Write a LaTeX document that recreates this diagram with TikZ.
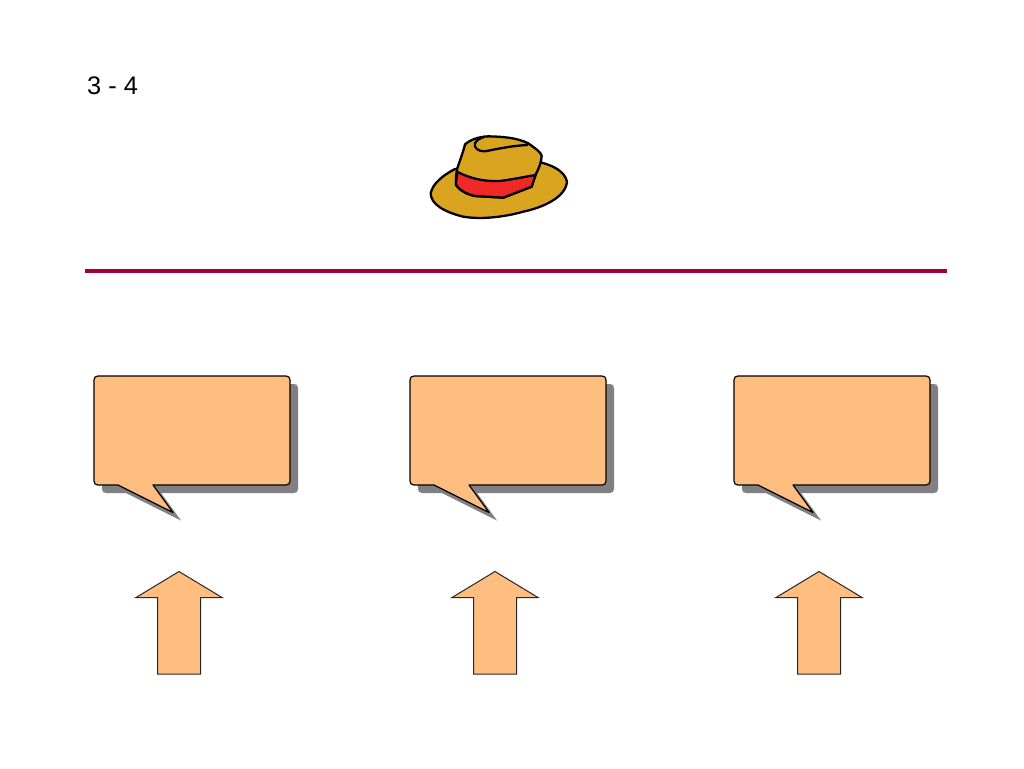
\documentclass[tikz,border=0pt]{standalone}
\usepackage{fontspec}
\setmainfont{Liberation Sans}
\definecolor{peach}{HTML}{FFBE80}
\definecolor{shade}{HTML}{808080}
\definecolor{rulered}{HTML}{A50034}
\definecolor{straw}{HTML}{D9A520}
\definecolor{bandred}{HTML}{F02828}
\tikzset{
  bubble/.style={fill=peach,draw=black,line width=1.2pt,line join=round},
  bubbleshade/.style={fill=shade,draw=none},
  uparrow/.style={fill=peach,draw=black!85,line width=1pt,line join=miter},
  hatline/.style={draw=black,line width=2.3pt,line join=round,line cap=round},
  hatscale/.style={shift={(420,125)},x=0.3333pt,y=-0.3333pt}
}
\newcommand{\bubblepath}{(98,376) -- (286,376) .. controls (288.5,376) and (290,377.5) .. (290,380) -- (290,481) .. controls (290,483.5) and (288.5,485) .. (286,485) -- (153,485) -- (173,512.5) -- (118,485) -- (98,485) .. controls (95.5,485) and (94,483.5) .. (94,481) -- (94,380) .. controls (94,377.5) and (95.5,376) .. (98,376) -- cycle}
\newcommand{\callout}[1]{%
  \begin{scope}[shift={(#1,0)}]
    \fill[bubbleshade,shift={(8,8)}] \bubblepath;
    \path[bubble] \bubblepath;
    \path[uparrow] (179,571.5) -- (222,597.5) -- (200.5,597.5) -- (200.5,674) -- (157.5,674) -- (157.5,597.5) -- (136,597.5) -- cycle;
  \end{scope}}
\begin{document}
\begin{tikzpicture}[x=1pt,y=-1pt]
\useasboundingbox (0,0) rectangle (1024,768);
\fill[white] (0,0) rectangle (1024,768);
\node[anchor=base west,inner sep=0pt,font=\fontsize{25.4}{30}\selectfont] (pagenum) at (87,94.5) {3 - 4};
\draw[rulered,line width=4pt] (85,270.5) -- (947,270.5);
\callout{0}
\callout{316}
\callout{640}
\begin{scope}[hatscale]
  % brim
  \path[hatline,fill=straw] (105,132) .. controls (70,150) and (38,175) .. (32,205)
    .. controls (32,238) and (75,262) .. (130,275)
    .. controls (180,284) and (250,277) .. (310,260)
    .. controls (370,247) and (437,217) .. (441,170)
    .. controls (435,140) and (400,122) .. (365,113) -- cycle;
  % crown
  \path[hatline,fill=straw] (108,180) .. controls (108,160) and (108,145) .. (112,130)
    .. controls (120,105) and (130,80) .. (135,58)
    .. controls (150,45) and (175,35) .. (205,34)
    .. controls (250,35) and (290,38) .. (325,55)
    .. controls (345,70) and (362,80) .. (365,92)
    .. controls (365,110) and (355,135) .. (345,152)
    -- (335,185) -- (250,218) -- (165,213)
    .. controls (140,208) and (118,195) .. (108,180) -- cycle;
  % band
  \path[hatline,fill=bandred] (113,141) .. controls (150,160) and (190,170) .. (240,168)
    .. controls (280,163) and (315,155) .. (347,150)
    -- (335,185) -- (250,218) -- (165,213)
    .. controls (140,208) and (118,195) .. (108,180)
    .. controls (108,165) and (110,152) .. (113,141) -- cycle;
  % fold
  \path[hatline] (322,60) .. controls (280,62) and (240,70) .. (195,79)
    .. controls (175,80) and (160,68) .. (165,55)
    .. controls (170,45) and (180,40) .. (192,36);
\end{scope}
\end{tikzpicture}
\end{document}
